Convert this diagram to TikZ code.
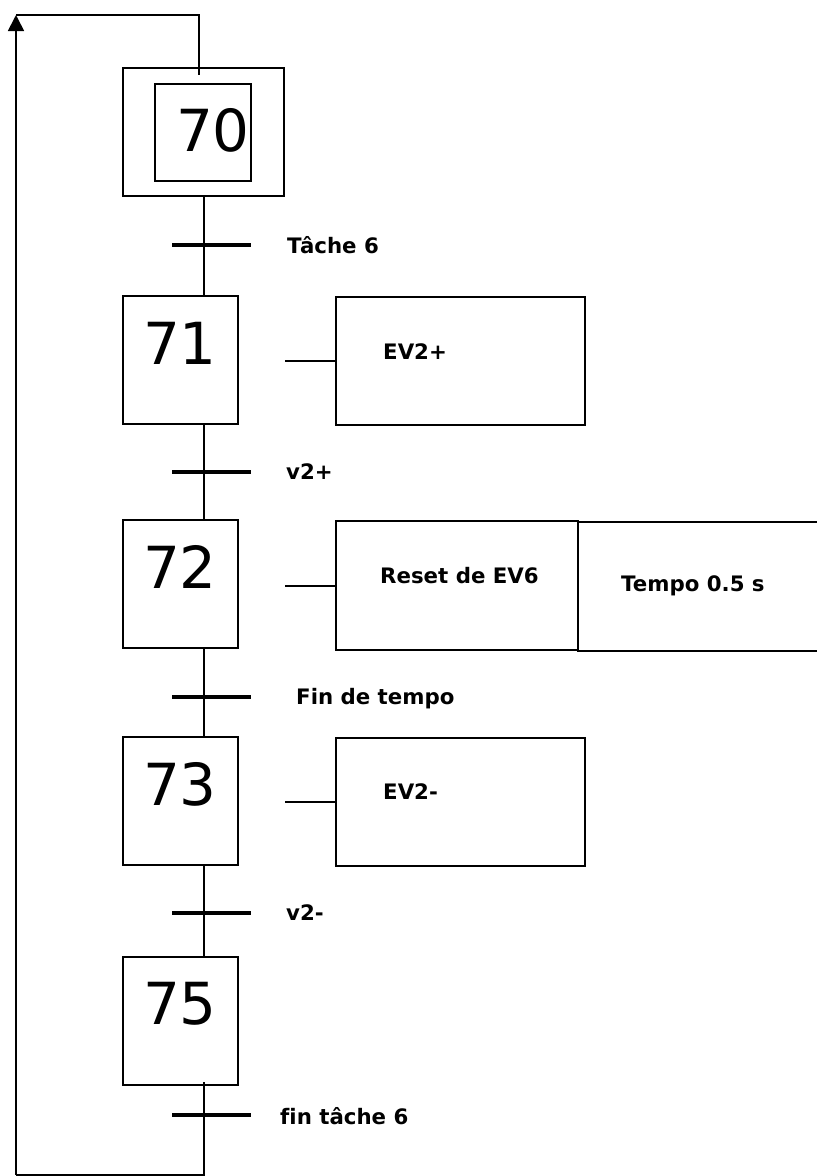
\documentclass[tikz,border=0pt]{standalone}
\usepackage{fontspec}
\setmainfont[Ligatures=NoCommon]{DejaVu Sans}
\usetikzlibrary{arrows.meta,calc}
\begin{document}
\begin{tikzpicture}[x=1pt,y=-1pt,
  stepbox/.style={draw,line width=1.8pt,minimum width=115pt,minimum height=128pt,inner sep=0pt,outer sep=0pt},
  actbox/.style={draw,line width=1.7pt,inner sep=0pt,outer sep=0pt},
  num/.style={font=\fontsize{58}{66}\selectfont,inner sep=0pt},
  lab/.style={font=\bfseries\fontsize{21.3}{25}\selectfont,anchor=west,inner sep=0pt},
  bar/.style={line width=4.5pt},
  wire/.style={line width=1.7pt}]
\useasboundingbox (0,0) rectangle (817,1176);
% axis
\coordinate (axis) at (204,0);
% step 70 (initial)
\node[draw,line width=1.8pt,minimum width=161pt,minimum height=128pt,inner sep=0pt,outer sep=0pt] (s70) at (203.5,132) {};
\node[draw,line width=1.8pt,minimum width=96pt,minimum height=97pt,inner sep=0pt,outer sep=0pt] (s70i) at (203,132.5) {};
\node[num] (n70) at (213,130) {70};
% steps
\node[stepbox] (s71) at (180.5,360) {};
\node[num] (n71) at (180,343) {71};
\node[stepbox] (s72) at (180.5,584) {};
\node[num] (n72) at (180,567) {72};
\node[stepbox] (s73) at (180.5,801) {};
\node[num] (n73) at (180,784) {73};
\node[stepbox] (s75) at (180.5,1021) {};
\node[num] (n75) at (180,1004) {75};
% action boxes
\node[actbox,minimum width=249pt,minimum height=128pt] (a71) at (460.5,361) {};
\node[lab] (t71) at (383,352) {EV2+};
\node[actbox,minimum width=242pt,minimum height=129pt] (a72) at (457,585.5) {};
\node[lab] (t72) at (380,576) {Reset de EV6};
\node[actbox,minimum width=254pt,minimum height=129pt] (a72b) at (705,586.5) {};
\node[lab] (t72b) at (621,586) {Tempo 0.5 s};
\node[actbox,minimum width=249pt,minimum height=128pt] (a73) at (460.5,802) {};
\node[lab] (t73) at (383,792) {EV2-};
% action connectors
\coordinate (c71) at (285,361);
\coordinate (c72) at (285,586);
\coordinate (c73) at (285,802);
\draw[wire] (c71) -- (c71 -| a71.west);
\draw[wire] (c72) -- (c72 -| a72.west);
\draw[wire] (c73) -- (c73 -| a73.west);
% links between steps
\draw[wire] (axis |- s70.south) -- (axis |- s71.north);
\draw[wire] (axis |- s71.south) -- (axis |- s72.north);
\draw[wire] (axis |- s72.south) -- (axis |- s73.north);
\draw[wire] (axis |- s73.south) -- (axis |- s75.north);
% transitions
\coordinate (tr1) at (204,245);
\coordinate (tr2) at (204,472);
\coordinate (tr3) at (204,697);
\coordinate (tr4) at (204,913);
\coordinate (tr5) at (204,1115);
\foreach \t in {tr1,tr2,tr3,tr4,tr5}
  \draw[bar] ($(\t)+(-32,0)$) -- ($(\t)+(47,0)$);
\node[lab] (l1) at (287,245) {Tâche 6};
\node[lab] (l2) at (286,472) {v2+};
\node[lab] (l3) at (296,699) {Fin de tempo};
\node[lab] (l4) at (286,913) {v2-};
\node[lab] (l5) at (280,1116) {fin tâche 6};
% loop back
\coordinate (lb) at (204,1175);
\coordinate (ll) at (16,1175);
\coordinate (lt) at (16,15);
\coordinate (lr) at (199,15);
\coordinate (le) at (199,75);
\draw[wire] (204,1082) -- (lb) -- (ll);
\draw[wire,-{Triangle[length=16pt,width=16pt]}] (ll) -- (lt);
\draw[wire] (lt) -- (lr) -- (le);
\end{tikzpicture}
\end{document}
